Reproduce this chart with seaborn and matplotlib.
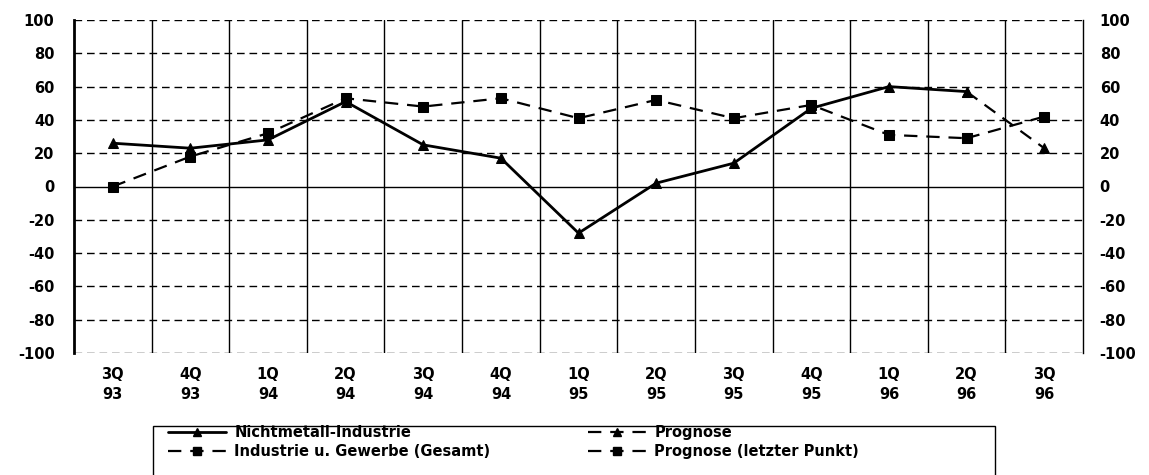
import matplotlib
matplotlib.use("Agg")
import matplotlib.pyplot as plt
import seaborn as sns
import pandas as pd
from matplotlib.lines import Line2D
from matplotlib.patches import Rectangle

sns.set_theme(style="white")
plt.rcParams['font.family'] = ['DejaVu Sans']
plt.rcParams['text.color'] = 'black'
plt.rcParams['xtick.color'] = 'black'
plt.rcParams['ytick.color'] = 'black'

quarters = ["3Q\n93", "4Q\n93", "1Q\n94", "2Q\n94", "3Q\n94", "4Q\n94", "1Q\n95",
            "2Q\n95", "3Q\n95", "4Q\n95", "1Q\n96", "2Q\n96", "3Q\n96"]
nichtmetall = [26, 23, 28, 51, 25, 17, -28, 2, 14, 47, 60, 57]
nicht_prognose = [57, 23]
industrie = [0, 18, 32, 53, 48, 53, 41, 52, 41, 49, 31, 29]
ind_prognose = [29, 42]
y_ticks = [-100, -80, -60, -40, -20, 0, 20, 40, 60, 80, 100]

n = len(quarters)
idx = list(range(n))
df_n = pd.DataFrame({"x": idx[:len(nichtmetall)], "y": nichtmetall})
df_np = pd.DataFrame({"x": idx[len(nichtmetall) - 1:], "y": nicht_prognose})
df_i = pd.DataFrame({"x": idx[:len(industrie)], "y": industrie})
df_ip = pd.DataFrame({"x": idx[len(industrie) - 1:], "y": ind_prognose})

W, H = 1149, 475
fig = plt.figure(figsize=(W / 100, H / 100), dpi=100)
ax = fig.add_axes([74 / W, 1 - 353 / H, (1083 - 74) / W, (353 - 20) / H])
ax.set_facecolor("white")

# grid
for yv in y_ticks:
    if yv == 0:
        ax.axhline(yv, color="black", lw=1.0, zorder=1)
    else:
        ax.axhline(yv, color="black", lw=1.0, ls=(0, (5.5, 3.5)), zorder=1)
for k in range(n - 1):
    ax.axvline(k + 0.5, color="black", lw=1.0, zorder=1)

ms = 6.5
kw_dash = dict(color="black", lw=1.6, dashes=(6, 4), zorder=3)
sns.lineplot(data=df_i, x="x", y="y", ax=ax, marker="s", markersize=ms,
             markeredgecolor="black", **kw_dash)
sns.lineplot(data=df_ip, x="x", y="y", ax=ax, marker="s", markersize=ms,
             markeredgecolor="black", **kw_dash)
sns.lineplot(data=df_n, x="x", y="y", ax=ax, color="black", lw=2.0, marker="^",
             markersize=ms, markeredgecolor="black", zorder=4)
sns.lineplot(data=df_np, x="x", y="y", ax=ax, marker="^", markersize=ms,
             markeredgecolor="black", **kw_dash)

ax.set_xlim(-0.5, n - 0.5)
ax.set_ylim(-100, 100)
ax.set_xticks(idx)
ax.set_xticklabels(quarters, fontsize=10.5, fontweight="bold", linespacing=1.45)
ax.set_yticks(y_ticks)
ax.set_yticklabels([str(v) for v in y_ticks], fontsize=10.5, fontweight="bold")
ax.set_xlabel("")
ax.set_ylabel("")
ax.tick_params(axis="x", length=0, pad=10)
ax.tick_params(axis="y", length=0, pad=14)
for s in ["top", "bottom"]:
    ax.spines[s].set_visible(False)
ax.spines["left"].set_linewidth(2.0)
ax.spines["left"].set_color("black")
ax.spines["right"].set_linewidth(1.0)
ax.spines["right"].set_color("black")
ax.grid(False)

ax2 = ax.twinx()
ax2.set_ylim(-100, 100)
ax2.set_yticks(y_ticks)
ax2.set_yticklabels([str(v) for v in y_ticks], fontsize=10.5, fontweight="bold")
ax2.tick_params(axis="y", length=0, pad=12)
for s in ["top", "bottom", "left", "right"]:
    ax2.spines[s].set_visible(False)
ax2.grid(False)

# legend box
fig.patches.append(Rectangle((153 / W, -0.02), (995 - 153) / W, 0.02 + 1 - 426 / H,
                             transform=fig.transFigure, fill=False,
                             edgecolor="black", lw=1.0))

lw_h = 1.6
h1 = [Line2D([], [], color="black", lw=2.0, marker="^", markersize=6),
      Line2D([], [], color="black", lw=lw_h, dashes=(6, 4), marker="s", markersize=6)]
l1 = ["Nichtmetall-Industrie", "Industrie u. Gewerbe (Gesamt)"]
h2 = [Line2D([], [], color="black", lw=lw_h, dashes=(6, 4), marker="^", markersize=6),
      Line2D([], [], color="black", lw=lw_h, dashes=(6, 4), marker="s", markersize=6)]
l2 = ["Prognose", "Prognose (letzter Punkt)"]
legkw = dict(loc="upper left", frameon=False, prop={"size": 10.5, "weight": "bold"},
             handlelength=4.0, borderpad=0, labelspacing=0.25, handletextpad=0.55,
             borderaxespad=0)
leg1 = fig.legend(h1, l1, bbox_to_anchor=(168 / W, 1 - 425 / H), **legkw)
leg2 = fig.legend(h2, l2, bbox_to_anchor=(588 / W, 1 - 425 / H), **legkw)

fig.savefig("out.png", dpi=100, facecolor="white")
